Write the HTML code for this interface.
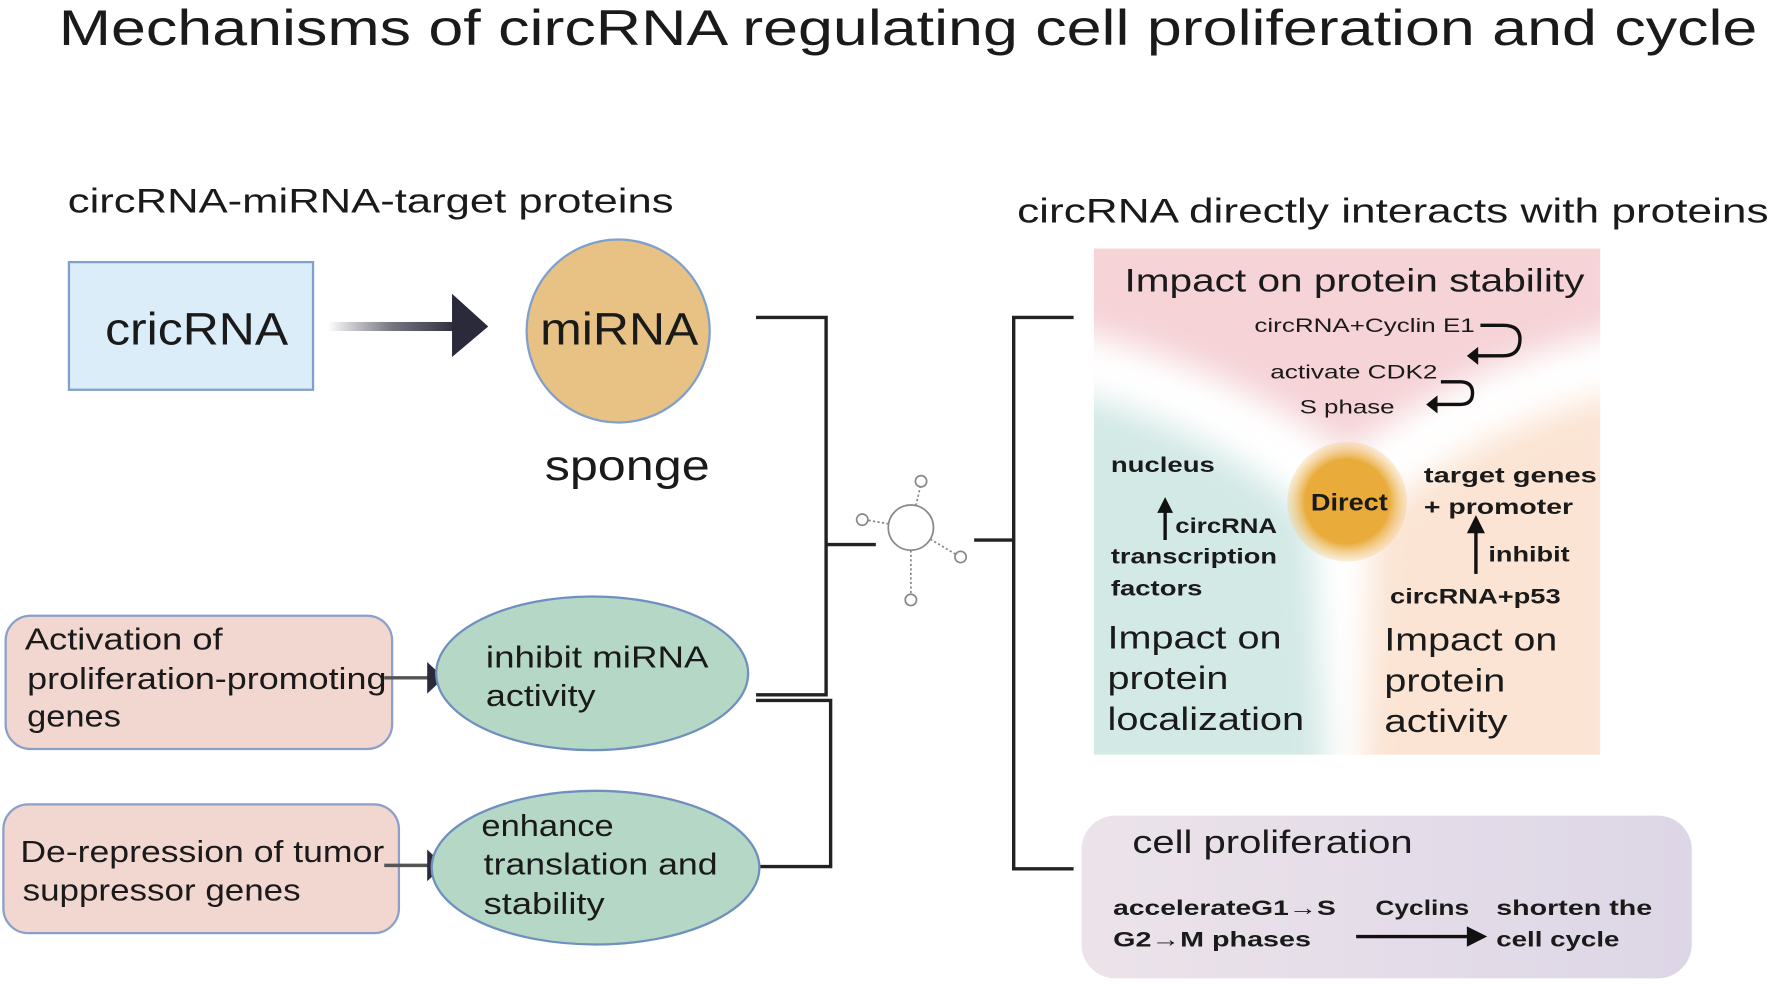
<!DOCTYPE html>
<html><head><meta charset="utf-8"><style>
html,body{margin:0;padding:0;background:#fff;}
svg{display:block;}
text{font-family:"Liberation Sans",Arial,sans-serif;fill:#1a1a1a;}
</style></head><body>
<svg width="1772" height="984" viewBox="0 0 1568 871" preserveAspectRatio="none" xmlns="http://www.w3.org/2000/svg">
<defs>
<linearGradient id="ag" x1="0" x2="1" y1="0" y2="0">
<stop offset="0" stop-color="#2a2a3a" stop-opacity="0"/><stop offset="0.5" stop-color="#3a3a4a" stop-opacity="0.7"/><stop offset="1" stop-color="#2a2a3a"/></linearGradient>
<radialGradient id="dg"><stop offset="0.7" stop-color="#e9ab3a"/><stop offset="1" stop-color="#f3c880" stop-opacity="0.3"/></radialGradient>
<linearGradient id="cp" x1="0" x2="1"><stop offset="0" stop-color="#ece3ea"/><stop offset="1" stop-color="#ddd6e6"/></linearGradient>
<filter id="bl"><feGaussianBlur stdDeviation="14"/></filter>
<clipPath id="pc"><rect x="968" y="220" width="448" height="448"/></clipPath>
</defs>

<text x="52" y="40" font-size="44" textLength="1503" lengthAdjust="spacingAndGlyphs">Mechanisms of circRNA regulating cell proliferation and cycle</text>
<text x="60" y="188" font-size="30" textLength="536" lengthAdjust="spacingAndGlyphs">circRNA-miRNA-target proteins</text>
<text x="900" y="197" font-size="30" textLength="665" lengthAdjust="spacingAndGlyphs">circRNA directly interacts with proteins</text>

<rect x="61" y="232" width="216" height="113" fill="#dcedfa" stroke="#7f9fcc" stroke-width="2"/>
<text x="93" y="305" font-size="40" textLength="162" lengthAdjust="spacingAndGlyphs">cricRNA</text>
<rect x="290" y="285" width="115" height="8" fill="url(#ag)"/>
<polygon points="400,260 432,289 400,316" fill="#2a2a3a"/>
<ellipse cx="547" cy="293" rx="81" ry="81" fill="#e8c284" stroke="#7f9fcc" stroke-width="2"/>
<text x="478" y="305" font-size="40" textLength="140" lengthAdjust="spacingAndGlyphs">miRNA</text>
<text x="482" y="425" font-size="38" textLength="146" lengthAdjust="spacingAndGlyphs">sponge</text>

<g stroke="#222" stroke-width="3" fill="none">
<polyline points="669,281 731,281 731,615 669,615"/>
<polyline points="669,620 735,620 735,767 672,767"/>
<line x1="731" y1="482" x2="775" y2="482"/>
<line x1="862" y1="478" x2="897" y2="478"/>
<polyline points="950,281 897,281 897,769 950,769"/>
</g>
<g stroke="#888" stroke-width="1.5" fill="#fff">
<line x1="806" y1="467" x2="815" y2="428" stroke-dasharray="2,2"/>
<line x1="806" y1="467" x2="765" y2="460" stroke-dasharray="2,2"/>
<line x1="806" y1="467" x2="848" y2="492" stroke-dasharray="2,2"/>
<line x1="806" y1="467" x2="806" y2="530" stroke-dasharray="2,2"/>
<circle cx="806" cy="467" r="20"/>
<circle cx="815" cy="426" r="5"/><circle cx="763" cy="460" r="5"/>
<circle cx="850" cy="493" r="5"/><circle cx="806" cy="531" r="5"/>
</g>

<rect x="5" y="545" width="342" height="118" rx="22" fill="#f2d6d0" stroke="#8aa0c8" stroke-width="2"/>
<text x="22" y="575" font-size="27" textLength="175" lengthAdjust="spacingAndGlyphs">Activation of</text>
<text x="24" y="610" font-size="27" textLength="318" lengthAdjust="spacingAndGlyphs">proliferation-promoting</text>
<text x="24" y="643" font-size="27" textLength="83" lengthAdjust="spacingAndGlyphs">genes</text>
<line x1="340" y1="600" x2="380" y2="600" stroke="#555" stroke-width="3"/>
<polygon points="378,586 393,600 378,614" fill="#2a2a3a"/>
<ellipse cx="524" cy="596" rx="138" ry="68" fill="#b5d7c5" stroke="#6f8fbf" stroke-width="2"/>
<text x="430" y="591" font-size="27" textLength="197" lengthAdjust="spacingAndGlyphs">inhibit miRNA</text>
<text x="430" y="625" font-size="27" textLength="97" lengthAdjust="spacingAndGlyphs">activity</text>

<rect x="3" y="712" width="350" height="114" rx="22" fill="#f2d6d0" stroke="#8aa0c8" stroke-width="2"/>
<text x="18" y="763" font-size="27" textLength="322" lengthAdjust="spacingAndGlyphs">De-repression of tumor</text>
<text x="20" y="797" font-size="27" textLength="246" lengthAdjust="spacingAndGlyphs">suppressor genes</text>
<line x1="340" y1="766" x2="380" y2="766" stroke="#555" stroke-width="3"/>
<polygon points="378,752 393,766 378,780" fill="#2a2a3a"/>
<ellipse cx="527" cy="768" rx="145" ry="68" fill="#b5d7c5" stroke="#6f8fbf" stroke-width="2"/>
<text x="426" y="740" font-size="27" textLength="117" lengthAdjust="spacingAndGlyphs">enhance</text>
<text x="428" y="774" font-size="27" textLength="207" lengthAdjust="spacingAndGlyphs">translation and</text>
<text x="428" y="809" font-size="27" textLength="107" lengthAdjust="spacingAndGlyphs">stability</text>

<g clip-path="url(#pc)">
<rect x="968" y="220" width="448" height="448" fill="#fff"/>
<g filter="url(#bl)">
<path d="M940,200 L1440,200 L1440,290 Q1300,320 1192,400 Q1080,320 940,290 Z" fill="#f5d3d7"/>
<path d="M940,345 Q1080,380 1160,460 L1175,700 L940,700 Z" fill="#d3e9e6"/>
<path d="M1440,345 Q1300,380 1215,460 L1205,700 L1440,700 Z" fill="#fbe4d3"/>
</g>
</g>
<text x="995" y="258" font-size="29" textLength="407" lengthAdjust="spacingAndGlyphs">Impact on protein stability</text>
<text x="1110" y="294" font-size="17" textLength="195" lengthAdjust="spacingAndGlyphs">circRNA+Cyclin E1</text>
<path d="M1310,288 L1330,288 Q1345,288 1345,300 Q1345,315 1330,315 L1305,315" stroke="#111" stroke-width="3" fill="none"/>
<polygon points="1298,315 1308,307 1308,323" fill="#111"/>
<text x="1124" y="335" font-size="17" textLength="148" lengthAdjust="spacingAndGlyphs">activate CDK2</text>
<path d="M1275,338 L1292,338 Q1303,338 1303,348 Q1303,358 1292,358 L1270,358" stroke="#111" stroke-width="3" fill="none"/>
<polygon points="1262,358 1272,350 1272,366" fill="#111"/>
<text x="1150" y="366" font-size="17" textLength="84" lengthAdjust="spacingAndGlyphs">S phase</text>

<circle cx="1192" cy="444" r="53" fill="url(#dg)"/>
<text x="1160" y="452" font-size="21" font-weight="bold" textLength="68" lengthAdjust="spacingAndGlyphs">Direct</text>

<text x="983" y="418" font-size="19" font-weight="bold" textLength="92" lengthAdjust="spacingAndGlyphs">nucleus</text>
<line x1="1031" y1="478" x2="1031" y2="452" stroke="#111" stroke-width="3"/>
<polygon points="1024,454 1031,440 1038,454" fill="#111"/>
<text x="1040" y="472" font-size="19" font-weight="bold" textLength="90" lengthAdjust="spacingAndGlyphs">circRNA</text>
<text x="983" y="499" font-size="19" font-weight="bold" textLength="147" lengthAdjust="spacingAndGlyphs">transcription</text>
<text x="983" y="527" font-size="19" font-weight="bold" textLength="81" lengthAdjust="spacingAndGlyphs">factors</text>

<text x="1260" y="427" font-size="19" font-weight="bold" textLength="153" lengthAdjust="spacingAndGlyphs">target genes</text>
<text x="1260" y="455" font-size="19" font-weight="bold" textLength="132" lengthAdjust="spacingAndGlyphs">+ promoter</text>
<line x1="1306" y1="508" x2="1306" y2="470" stroke="#111" stroke-width="3"/>
<polygon points="1298,472 1306,456 1314,472" fill="#111"/>
<text x="1317" y="497" font-size="19" font-weight="bold" textLength="72" lengthAdjust="spacingAndGlyphs">inhibit</text>
<text x="1230" y="534" font-size="19" font-weight="bold" textLength="151" lengthAdjust="spacingAndGlyphs">circRNA+p53</text>

<text x="980" y="574" font-size="29" textLength="154" lengthAdjust="spacingAndGlyphs">Impact on</text>
<text x="980" y="610" font-size="29" textLength="107" lengthAdjust="spacingAndGlyphs">protein</text>
<text x="980" y="646" font-size="29" textLength="174" lengthAdjust="spacingAndGlyphs">localization</text>
<text x="1225" y="576" font-size="29" textLength="153" lengthAdjust="spacingAndGlyphs">Impact on</text>
<text x="1225" y="612" font-size="29" textLength="107" lengthAdjust="spacingAndGlyphs">protein</text>
<text x="1225" y="648" font-size="29" textLength="109" lengthAdjust="spacingAndGlyphs">activity</text>

<rect x="957" y="722" width="540" height="144" rx="30" fill="url(#cp)"/>
<text x="1002" y="755" font-size="29" textLength="248" lengthAdjust="spacingAndGlyphs">cell proliferation</text>
<text x="985" y="810" font-size="19" font-weight="bold" textLength="197" lengthAdjust="spacingAndGlyphs">accelerateG1→S</text>
<text x="985" y="838" font-size="19" font-weight="bold" textLength="175" lengthAdjust="spacingAndGlyphs">G2→M phases</text>
<text x="1217" y="810" font-size="19" font-weight="bold" textLength="83" lengthAdjust="spacingAndGlyphs">Cyclins</text>
<line x1="1200" y1="829" x2="1300" y2="829" stroke="#111" stroke-width="3"/>
<polygon points="1298,820 1316,829 1298,838" fill="#111"/>
<text x="1324" y="810" font-size="19" font-weight="bold" textLength="138" lengthAdjust="spacingAndGlyphs">shorten the</text>
<text x="1324" y="838" font-size="19" font-weight="bold" textLength="109" lengthAdjust="spacingAndGlyphs">cell cycle</text>
</svg>
</body></html>
